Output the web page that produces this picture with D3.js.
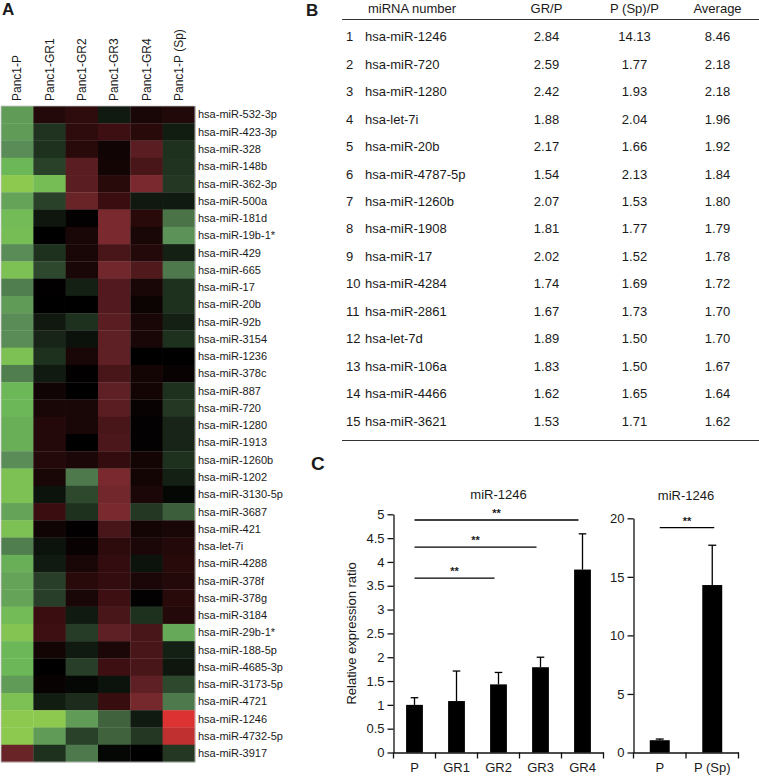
<!DOCTYPE html>
<html><head><meta charset="utf-8">
<script src="https://cdn.jsdelivr.net/npm/d3@7"></script>
<style>body{margin:0;background:#fff}text{font-family:"Liberation Sans",Arial,Helvetica,sans-serif;fill:#1a1a1a}</style>
</head><body><svg id="c" width="759" height="777"></svg>
<script>
// ---------- Panel A: heatmap ----------
const hmColumns = ["Panc1-P","Panc1-GR1","Panc1-GR2","Panc1-GR3","Panc1-GR4","Panc1-P (Sp)"];
const hmRows = ["hsa-miR-532-3p","hsa-miR-423-3p","hsa-miR-328","hsa-miR-148b","hsa-miR-362-3p","hsa-miR-500a","hsa-miR-181d","hsa-miR-19b-1*","hsa-miR-429","hsa-miR-665","hsa-miR-17","hsa-miR-20b","hsa-miR-92b","hsa-miR-3154","hsa-miR-1236","hsa-miR-378c","hsa-miR-887","hsa-miR-720","hsa-miR-1280","hsa-miR-1913","hsa-miR-1260b","hsa-miR-1202","hsa-miR-3130-5p","hsa-miR-3687","hsa-miR-421","hsa-let-7i","hsa-miR-4288","hsa-miR-378f","hsa-miR-378g","hsa-miR-3184","hsa-miR-29b-1*","hsa-miR-188-5p","hsa-miR-4685-3p","hsa-miR-3173-5p","hsa-miR-4721","hsa-miR-1246","hsa-miR-4732-5p","hsa-miR-3917"];
const hmValues = [
 [-0.8, 0.22, 0.28, -0.18, 0.15, 0.2],
 [-0.8, -0.35, 0.28, 0.37, 0.25, -0.2],
 [-0.75, -0.33, 0.25, 0.1, 0.57, -0.33],
 [-0.9, -0.45, 0.57, 0.12, 0.45, -0.35],
 [-1, -0.93, 0.57, 0.25, 0.75, -0.38],
 [-0.83, -0.45, 0.66, 0.35, -0.17, -0.18],
 [-0.92, -0.15, 0.02, 0.75, 0.25, -0.66],
 [-0.93, 0, 0.15, 0.75, 0.15, -0.77],
 [-0.75, -0.33, 0.15, 0.45, 0.22, -0.22],
 [-0.95, -0.5, 0.15, 0.7, 0.5, -0.68],
 [-0.7, 0.01, -0.22, 0.52, 0.15, -0.33],
 [-0.8, 0, 0, 0.52, 0.07, -0.33],
 [-0.75, -0.17, -0.33, 0.57, 0.15, -0.22],
 [-0.75, -0.25, -0.12, 0.6, 0.15, -0.33],
 [-0.95, -0.33, 0.15, 0.6, 0, 0],
 [-0.7, -0.18, 0.01, 0.45, 0.12, 0.05],
 [-0.9, 0.1, 0, 0.6, 0.12, -0.33],
 [-0.9, 0.15, 0.15, 0.57, 0.05, -0.38],
 [-0.87, 0.22, 0.15, 0.45, 0.02, -0.25],
 [-0.87, 0.22, 0, 0.47, 0.02, -0.25],
 [-0.75, 0.22, 0.17, 0.3, 0.12, -0.33],
 [-0.95, 0.15, -0.68, 0.75, 0.12, -0.22],
 [-0.95, -0.13, -0.5, 0.7, 0.17, -0.05],
 [-0.83, 0.35, -0.33, 0.75, -0.38, -0.58],
 [-0.95, 0.1, 0.01, 0.45, 0.12, 0.15],
 [-0.7, -0.13, 0.05, 0.27, 0.17, 0.22],
 [-0.87, -0.18, 0.15, 0.3, -0.13, 0.25],
 [-0.83, -0.43, 0.25, 0.3, 0.17, 0.22],
 [-0.83, -0.43, 0.15, 0.37, 0.02, 0.25],
 [-0.92, 0.35, -0.18, 0.45, -0.33, 0.22],
 [-0.97, 0.37, -0.42, 0.6, 0.45, -0.85],
 [-0.9, 0.12, -0.18, 0.17, 0.45, -0.22],
 [-0.9, 0, -0.43, 0.37, 0.45, -0.15],
 [-0.8, 0.05, -0.05, -0.13, 0.6, -0.5],
 [-0.95, -0.2, -0.3, 0.33, 0.73, -0.68],
 [-1, -1, -0.8, -0.6, -0.18, 1],
 [-1, -0.8, -0.45, -0.6, -0.38, 0.93],
 [0.66, -0.33, -0.68, -0.05, 0, -0.38]
];

// ---------- Panel B: table ----------
const tblHeaders = ["miRNA number","GR/P","P (Sp)/P","Average"];
const tblNames = ["hsa-miR-1246","hsa-miR-720","hsa-miR-1280","hsa-let-7i","hsa-miR-20b","hsa-miR-4787-5p","hsa-miR-1260b","hsa-miR-1908","hsa-miR-17","hsa-miR-4284","hsa-miR-2861","hsa-let-7d","hsa-miR-106a","hsa-miR-4466","hsa-miR-3621"];
const tblGR = ["2.84","2.59","2.42","1.88","2.17","1.54","2.07","1.81","2.02","1.74","1.67","1.89","1.83","1.62","1.53"];
const tblSp = ["14.13","1.77","1.93","2.04","1.66","2.13","1.53","1.77","1.52","1.69","1.73","1.50","1.50","1.65","1.71"];
const tblAvg = ["8.46","2.18","2.18","1.96","1.92","1.84","1.80","1.79","1.78","1.72","1.70","1.70","1.67","1.64","1.62"];

// ---------- Panel C: bar charts ----------
const c1Title = "miR-1246";
const c1Cats = ["P","GR1","GR2","GR3","GR4"];
const c1Vals = [1.0, 1.08, 1.43, 1.79, 3.84];
const c1ErrTop = [1.15, 1.71, 1.68, 2.0, 4.59];
const c1Ticks = [0,0.5,1,1.5,2,2.5,3,3.5,4,4.5,5];
const c1Sig = [{from:"P",to:"GR4",y:4.88,label:"**"},{from:"P",to:"GR3",y:4.31,label:"**"},{from:"P",to:"GR2",y:3.66,label:"**"}];
const c1YLabel = "Relative expression ratio";

const c2Title = "miR-1246";
const c2Cats = ["P","P (Sp)"];
const c2Vals = [1.05, 14.3];
const c2ErrTop = [1.15, 17.7];
const c2Ticks = [0,5,10,15,20];
const c2Sig = [{from:"P",to:"P (Sp)",y:19.2,label:"**"}];

const svg = d3.select("#c");

// ===== Heatmap =====
const hx = d3.scaleBand().domain(hmColumns).range([1,195]);
const hy = d3.scaleBand().domain(hmRows).range([106,762]);
const hColor = d3.scaleLinear()
  .domain([-1,-0.9,-0.75,-0.5,0,0.35,0.6,0.75,1])
  .range(["#8ec94f","#6cb858","#5a8c57","#2e482e","#000000","#3a0e10","#5e2024","#7a2a2e","#dc3232"])
  .clamp(true);

svg.append("text").attr("x",2).attr("y",15).attr("font-size",17).attr("font-weight","bold").text("A");

const gH = svg.append("g");
hmValues.forEach((row,i)=>{
  row.forEach((v,j)=>{
    gH.append("rect").attr("x",hx(hmColumns[j])).attr("y",hy(hmRows[i]))
      .attr("width",hx.bandwidth()+0.3).attr("height",hy.bandwidth()+0.3)
      .attr("fill",hColor(v));
  });
});
gH.append("rect").attr("x",hx.range()[0]).attr("y",hy.range()[0])
  .attr("width",hx.range()[1]-hx.range()[0]).attr("height",hy.range()[1]-hy.range()[0])
  .attr("fill","none").attr("stroke","#c8c8c8").attr("stroke-width",0.8);

hmColumns.forEach(c=>{
  const cx = hx(c)+hx.bandwidth()/2;
  svg.append("text").attr("transform",`translate(${cx},101) rotate(-90)`)
    .attr("dy","0.35em").attr("font-size",12).text(c);
});
hmRows.forEach(r=>{
  svg.append("text").attr("x",198).attr("y",hy(r)+hy.bandwidth()/2)
    .attr("dy","0.35em").attr("font-size",11).text(r);
});

// ===== Table =====
svg.append("text").attr("x",306).attr("y",16).attr("font-size",17).attr("font-weight","bold").text("B");
const ty = d3.scalePoint().domain(d3.range(tblNames.length)).range([36.7,421]);
const colX = {num:346, name:365, gr:546.5, sp:634.5, avg:717.5};
svg.append("text").attr("x",368).attr("y",8).attr("dy","0.35em").attr("font-size",13).text(tblHeaders[0]);
svg.append("text").attr("x",colX.gr).attr("y",8).attr("dy","0.35em").attr("font-size",13).attr("text-anchor","middle").text(tblHeaders[1]);
svg.append("text").attr("x",colX.sp).attr("y",8).attr("dy","0.35em").attr("font-size",13).attr("text-anchor","middle").text(tblHeaders[2]);
svg.append("text").attr("x",colX.avg).attr("y",8).attr("dy","0.35em").attr("font-size",13).attr("text-anchor","middle").text(tblHeaders[3]);
svg.append("line").attr("x1",342).attr("x2",759).attr("y1",19.5).attr("y2",19.5).attr("stroke","#333").attr("stroke-width",1.2);
svg.append("line").attr("x1",342).attr("x2",759).attr("y1",440.5).attr("y2",440.5).attr("stroke","#333").attr("stroke-width",1.2);
tblNames.forEach((n,i)=>{
  const y = ty(i);
  svg.append("text").attr("x",colX.num).attr("y",y).attr("dy","0.35em").attr("font-size",13).text(String(i+1));
  svg.append("text").attr("x",colX.name).attr("y",y).attr("dy","0.35em").attr("font-size",13).text(n);
  svg.append("text").attr("x",colX.gr).attr("y",y).attr("dy","0.35em").attr("font-size",13).attr("text-anchor","middle").text(tblGR[i]);
  svg.append("text").attr("x",colX.sp).attr("y",y).attr("dy","0.35em").attr("font-size",13).attr("text-anchor","middle").text(tblSp[i]);
  svg.append("text").attr("x",colX.avg).attr("y",y).attr("dy","0.35em").attr("font-size",13).attr("text-anchor","middle").text(tblAvg[i]);
});

// ===== Bar charts =====
svg.append("text").attr("x",311).attr("y",470).attr("font-size",19).attr("font-weight","bold").text("C");

function barChart(opt){
  const x = d3.scaleBand().domain(opt.cats).range(opt.xr).paddingInner(opt.pad).paddingOuter(opt.pad/2);
  const xb = d3.scaleBand().domain(opt.cats).range(opt.xr);
  const y = d3.scaleLinear().domain([0,opt.ticks[opt.ticks.length-1]]).range(opt.yr);
  const g = svg.append("g");
  // y axis
  const ya = g.append("g").attr("transform",`translate(${opt.xr[0]},0)`)
    .call(d3.axisLeft(y).tickValues(opt.ticks).tickFormat(d=>String(d)).tickSize(6).tickSizeOuter(0).tickPadding(3));
  ya.selectAll("text").attr("font-size",13).attr("font-family",null).style("fill","#1a1a1a");
  ya.selectAll("line,path").attr("stroke","#111").attr("stroke-width",1.3);
  ya.attr("font-family",null);
  // x axis
  const xa = g.append("g").attr("transform",`translate(0,${opt.yr[0]})`)
    .call(d3.axisBottom(xb).tickSize(0).tickSizeOuter(0).tickPadding(10));
  xa.selectAll("text").attr("font-size",13).style("fill","#1a1a1a");
  xa.select("path").attr("stroke","#111").attr("stroke-width",1.3);
  xa.attr("font-family",null);
  const bounds = opt.cats.map(c=>xb(c)).concat([xb.range()[1]]);
  bounds.forEach(bx=>{
    g.append("line").attr("x1",bx).attr("x2",bx).attr("y1",opt.yr[0]).attr("y2",opt.yr[0]+6)
      .attr("stroke","#111").attr("stroke-width",1.3);
  });
  // bars
  opt.cats.forEach((c,i)=>{
    const cx = x(c)+x.bandwidth()/2;
    g.append("line").attr("x1",cx).attr("x2",cx).attr("y1",y(opt.vals[i])).attr("y2",y(opt.err[i]))
      .attr("stroke","#000").attr("stroke-width",1.3);
    g.append("line").attr("x1",cx-opt.cap).attr("x2",cx+opt.cap).attr("y1",y(opt.err[i])).attr("y2",y(opt.err[i]))
      .attr("stroke","#000").attr("stroke-width",1.3);
    g.append("rect").attr("x",x(c)).attr("y",y(opt.vals[i])).attr("width",x.bandwidth())
      .attr("height",y(0)-y(opt.vals[i])).attr("fill","#000");
  });
  // significance
  opt.sig.forEach(s=>{
    const x1 = x(s.from)+x.bandwidth()/2;
    const x2 = x(s.to)+x.bandwidth()/2 - opt.sigEnd;
    g.append("line").attr("x1",x1).attr("x2",x2).attr("y1",y(s.y)).attr("y2",y(s.y))
      .attr("stroke","#000").attr("stroke-width",1.3);
    g.append("text").attr("x",(x1+x2)/2).attr("y",y(s.y)-3).attr("text-anchor","middle")
      .attr("font-size",11).attr("font-weight","bold").text(s.label);
  });
  g.append("text").attr("x",(opt.xr[0]+opt.xr[1])/2).attr("y",opt.titleY).attr("dy","0.35em")
    .attr("text-anchor","middle").attr("font-size",13).text(opt.title);
  if(opt.ylabel){
    g.append("text").attr("transform",`translate(${opt.ylabelX},${(opt.yr[0]+opt.yr[1])/2}) rotate(-90)`)
      .attr("text-anchor","middle").attr("dy","0.35em").attr("font-size",13).text(opt.ylabel);
  }
}

barChart({cats:c1Cats, vals:c1Vals, err:c1ErrTop, ticks:c1Ticks, sig:c1Sig, title:c1Title,
  xr:[393.5,603.5], yr:[752.5,514.3], pad:0.6, cap:3.8, sigEnd:4, titleY:494, ylabel:c1YLabel, ylabelX:351});
barChart({cats:c2Cats, vals:c2Vals, err:c2ErrTop, ticks:c2Ticks, sig:c2Sig, title:c2Title,
  xr:[633.5,738.5], yr:[752.5,518.3], pad:0.62, cap:4, sigEnd:-2, titleY:495});
</script></body></html>
